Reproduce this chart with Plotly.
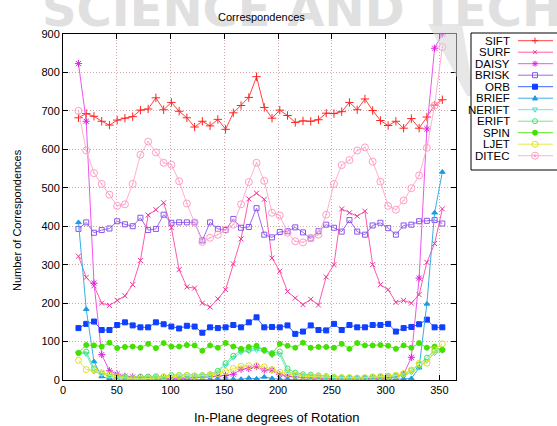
import plotly.graph_objects as go

# ---------------- data ----------------
angles = [14.4, 21.6, 28.8, 36.0, 43.2, 50.4, 57.6, 64.8, 72.0, 79.2, 86.4, 93.6,
          100.8, 108.0, 115.2, 122.4, 129.6, 136.8, 144.0, 151.2, 158.4, 165.6, 172.8, 180.0,
          187.2, 194.4, 201.6, 208.8, 216.0, 223.2, 230.4, 237.6, 244.8, 252.0, 259.2, 266.4,
          273.6, 280.8, 288.0, 295.2, 302.4, 309.6, 316.8, 324.0, 331.2, 338.4, 345.6, 352.8]

sift = [682, 693, 686, 673, 663, 676, 681, 685, 702, 705, 734, 703, 722, 699, 682, 658, 673, 661, 678, 652, 695, 714, 735, 789,
        709, 681, 702, 688, 670, 674, 673, 677, 694, 693, 698, 722, 703, 731, 701, 675, 662, 673, 655, 680, 655, 684, 715, 729]
surf = [322, 267, 245, 200, 194, 207, 219, 248, 311, 429, 443, 461, 396, 287, 242, 239, 200, 190, 211, 235, 302, 367, 471, 486,
        470, 317, 283, 230, 213, 196, 210, 195, 268, 300, 445, 435, 426, 439, 300, 248, 235, 202, 207, 200, 222, 306, 355, 445]
daisy = [823, 673, 252, 66, 24, 15, 10, 8, 6, 5, 5, 4, 4, 5, 5, 6, 7, 8, 10, 12, 15, 28, 30, 35,
         26, 26, 14, 10, 8, 6, 5, 5, 4, 4, 3, 3, 3, 4, 4, 5, 5, 8, 15, 59, 265, 653, 863, 900]
brisk = [393, 410, 383, 390, 394, 413, 405, 400, 422, 390, 393, 430, 409, 410, 410, 410, 363, 410, 393, 390, 419, 396, 398, 447,
         378, 371, 385, 387, 397, 384, 368, 387, 404, 396, 386, 416, 386, 378, 402, 409, 395, 378, 402, 404, 413, 414, 416, 407]
orb = [135, 146, 152, 130, 130, 143, 150, 142, 137, 137, 150, 145, 139, 134, 141, 139, 123, 137, 135, 137, 143, 137, 150, 163,
       137, 138, 137, 142, 120, 126, 142, 130, 129, 146, 130, 143, 137, 137, 143, 143, 146, 126, 135, 138, 145, 157, 137, 137]
brief = [410, 184, 48, 9, 3, 2, 2, 1, 1, 1, 1, 1, 2, 1, 2, 1, 2, 1, 1, 2, 2, 2, 5, 3,
         8, 4, 2, 1, 1, 1, 1, 1, 1, 1, 2, 2, 1, 1, 1, 1, 1, 2, 3, 4, 32, 198, 435, 541]
nerift = [70, 68, 22, 15, 10, 6, 5, 4, 4, 4, 4, 5, 6, 6, 8, 8, 10, 12, 20, 38, 58, 72, 75, 78,
          74, 64, 66, 22, 14, 12, 10, 8, 6, 5, 5, 5, 5, 5, 6, 7, 8, 10, 12, 20, 32, 50, 70, 76]
erift = [71, 74, 30, 17, 15, 11, 9, 6, 9, 9, 10, 9, 13, 13, 13, 12, 13, 15, 24, 44, 63, 77, 78, 85,
         78, 70, 74, 30, 19, 15, 14, 12, 10, 8, 7, 7, 6, 6, 8, 9, 10, 12, 15, 25, 40, 58, 77, 79]
spin = [70, 91, 90, 87, 97, 83, 86, 87, 84, 94, 83, 96, 87, 87, 91, 90, 76, 90, 84, 96, 87, 81, 86, 89,
        78, 68, 94, 89, 84, 97, 84, 86, 86, 84, 94, 81, 96, 90, 90, 91, 89, 81, 90, 84, 96, 84, 87, 78]
ljet = [51, 27, 26, 19, 13, 8, 5, 3, 3, 4, 5, 8, 10, 11, 12, 10, 11, 13, 16, 22, 30, 36, 37, 37,
        34, 27, 20, 17, 12, 10, 9, 8, 7, 6, 6, 6, 5, 6, 8, 9, 10, 12, 17, 26, 43, 44, 79, 94]
ditec = [700, 597, 538, 510, 482, 453, 457, 510, 586, 620, 592, 565, 560, 517, 459, 410, 359, 370, 378, 391, 404, 457, 515, 565,
         518, 435, 428, 383, 361, 358, 370, 378, 430, 510, 559, 572, 597, 605, 568, 516, 453, 443, 467, 499, 532, 604, 714, 866]

x_ticks = [0, 50, 100, 150, 200, 250, 300, 350]
y_ticks = [0, 100, 200, 300, 400, 500, 600, 700, 800, 900]

# ---------------- styles ----------------
# name, values, line colour, marker colour, symbol, size
styles = [
    ("SIFT", sift, "#ff4444", "#ff2222", "cross-thin", 6),
    ("SURF", surf, "#ff5aaa", "#ee3399", "x-thin", 5),
    ("DAISY", daisy, "#ee55ee", "#dd22dd", "asterisk", 6),
    ("BRISK", brisk, "#9a6cf0", "#8855ee", "square-open", 5),
    ("ORB", orb, "#3a66ff", "#0f3fff", "square", 5),
    ("BRIEF", brief, "#3aaee8", "#1d9be0", "triangle-up", 5),
    ("NERIFT", nerift, "#6fe8d8", "#44e0cc", "triangle-down-open", 5),
    ("ERIFT", erift, "#66ee8c", "#44e070", "circle-open", 5),
    ("SPIN", spin, "#5ee82a", "#44e000", "circle", 5),
    ("LJET", ljet, "#e8e84a", "#e0e020", "circle-open", 6),
    ("DITEC", ditec, "#ffb0d0", "#ff9cc6", "circle-open-dot", 7),
]

FONT = "Liberation Sans, Arial, Helvetica, sans-serif"
W, H = 557, 426
PL, PR, PT, PB = 63, 456, 34, 380


def fx(px):
    return (px - PL) / (PR - PL)


def fy(py):
    return (PB - py) / (PB - PT)


fig = go.Figure()

for name, vals, lc, mc, sym, sz in styles:
    fig.add_trace(go.Scatter(
        x=angles, y=vals, mode="lines+markers", name=name,
        line=dict(color=lc, width=1),
        marker=dict(symbol=sym, size=sz, color=mc, line=dict(color=mc, width=1)),
        showlegend=False, hoverinfo="skip",
    ))

shapes = []
annotations = []


def pline(x0, y0, x1, y1, color, width=1):
    shapes.append(dict(type="line", xref="paper", yref="paper", x0=fx(x0), y0=fy(y0), x1=fx(x1), y1=fy(y1),
                       line=dict(color=color, width=width), layer="above"))


def key_marker(sym, cx, cy, c, s):
    r = s / 2.0
    if sym in ("cross-thin", "asterisk"):
        pline(cx - r, cy, cx + r, cy, c)
        pline(cx, cy - r, cx, cy + r, c)
    if sym in ("x-thin", "asterisk"):
        pline(cx - r * 0.75, cy - r * 0.75, cx + r * 0.75, cy + r * 0.75, c)
        pline(cx - r * 0.75, cy + r * 0.75, cx + r * 0.75, cy - r * 0.75, c)
    if sym in ("square", "square-open"):
        shapes.append(dict(type="rect", xref="paper", yref="paper", x0=fx(cx - r), x1=fx(cx + r),
                           y0=fy(cy - r), y1=fy(cy + r), line=dict(color=c, width=1),
                           fillcolor=c if sym == "square" else "rgba(0,0,0,0)", layer="above"))
    if sym in ("circle", "circle-open", "circle-open-dot"):
        shapes.append(dict(type="circle", xref="paper", yref="paper", x0=fx(cx - r), x1=fx(cx + r),
                           y0=fy(cy - r), y1=fy(cy + r), line=dict(color=c, width=1),
                           fillcolor=c if sym == "circle" else "rgba(0,0,0,0)", layer="above"))
        if sym == "circle-open-dot":
            shapes.append(dict(type="circle", xref="paper", yref="paper", x0=fx(cx - 1), x1=fx(cx + 1),
                               y0=fy(cy - 1), y1=fy(cy + 1), line=dict(color=c, width=1),
                               fillcolor=c, layer="above"))
    if sym in ("triangle-up", "triangle-down-open"):
        d = -1 if sym == "triangle-up" else 1
        p = "M {} {} L {} {} L {} {} Z".format(fx(cx), fy(cy + d * r), fx(cx - r), fy(cy - d * r * 0.7),
                                             fx(cx + r), fy(cy - d * r * 0.7))
        shapes.append(dict(type="path", xref="paper", yref="paper", path=p, line=dict(color=c, width=1),
                           fillcolor=c if sym == "triangle-up" else "rgba(0,0,0,0)", layer="above"))


# watermark diagonal band (decoration)
band = "M {} {} L {} {} L {} {} L {} {} Z".format(fx(428), fy(24), fx(462), fy(24), fx(474), fy(96), fx(467), fy(96))
shapes.append(dict(type="path", xref="paper", yref="paper", path=band,
                   fillcolor="#d4d4d4", opacity=0.55, line=dict(width=0), layer="above"))

# gnuplot-like key
key_left, key_top, key_bottom = 471, 33, 170
key_text_x, key_line_x0, key_line_x1, key_mark_x = 512, 518, 553, 535
key_y0, key_dy = 40.7, 11.5
shapes.append(dict(type="rect", xref="paper", yref="paper", x0=fx(key_left), x1=fx(W + 5),
                   y0=fy(key_top), y1=fy(key_bottom), fillcolor="white",
                   line=dict(color="black", width=1), layer="above"))

for k, (name, vals, lc, mc, sym, sz) in enumerate(styles):
    yk = key_y0 + key_dy * k
    pline(key_line_x0, yk, key_line_x1, yk, lc)
    key_marker(sym, key_mark_x, yk, mc, sz)
    annotations.append(dict(xref="paper", yref="paper", x=fx(key_text_x), y=fy(yk), text=name, showarrow=False,
                            xanchor="right", yanchor="middle",
                            font=dict(family=FONT, size=11.5, color="black")))

# watermark text
annotations.append(dict(xref="paper", yref="paper", x=fx(40), y=fy(9), text="SCIENCE AND TECHNOLOGY",
                        showarrow=False, xanchor="left", yanchor="middle",
                        font=dict(family="DejaVu Sans", size=48, color="#e0e0e0", weight="bold")))
# titles
annotations.append(dict(xref="paper", yref="paper", x=fx(261), y=fy(17), text="Correspondences", showarrow=False,
                        xanchor="center", yanchor="middle", font=dict(family=FONT, size=11, color="black")))
annotations.append(dict(xref="paper", yref="paper", x=fx(277), y=fy(418), text="In-Plane degrees of Rotation",
                        showarrow=False, xanchor="center", yanchor="middle",
                        font=dict(family=FONT, size=13, color="black")))
annotations.append(dict(xref="paper", yref="paper", x=fx(17), y=fy(220), text="Number of Correspondences",
                        showarrow=False, xanchor="center", yanchor="middle", textangle=-90,
                        font=dict(family=FONT, size=11, color="black")))

axis_common = dict(ticks="inside", ticklen=5, tickcolor="black", showline=True, linecolor="black",
                   linewidth=1, mirror="ticks", showgrid=True, gridcolor="#d2aaaa", griddash="1px,2px",
                   gridwidth=1, zeroline=False, tickfont=dict(family=FONT, size=11, color="black"))

fig.update_layout(
    width=W, height=H,
    margin=dict(l=PL, r=W - PR, t=PT, b=H - PB, pad=0),
    paper_bgcolor="white", plot_bgcolor="white",
    xaxis=dict(range=[0, 365.5], tickvals=x_ticks, **axis_common),
    yaxis=dict(range=[0, 900], tickvals=y_ticks, **axis_common),
    shapes=shapes, annotations=annotations, showlegend=False,
)

fig.write_html("out.html", config={"displayModeBar": False, "staticPlot": True},
               post_script="document.body.style.margin='0';document.body.style.overflow='hidden';")
